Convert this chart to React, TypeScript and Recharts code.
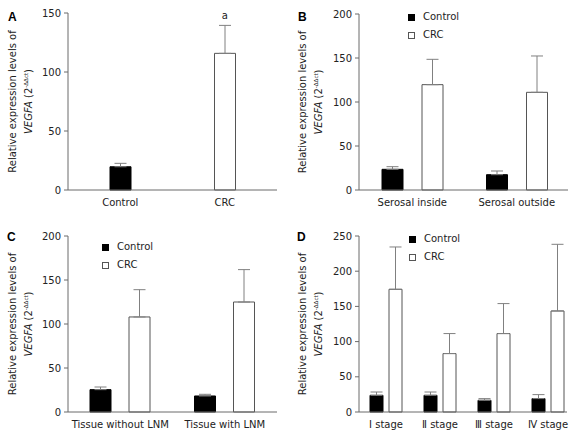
import React from 'react';
import { BarChart, Bar, XAxis, YAxis, ErrorBar, Cell, Legend, ReferenceDot } from 'recharts';

const FONT = '"DejaVu Sans", Verdana, sans-serif';
const AXIS = '#6a6a6a';
const TXT = '#222';
const OUTLINE = '#555';
const ERRC = '#808080';

// Series
const seriesNames = ['Control', 'CRC'];
const seriesFill = ['#000000', '#ffffff'];
const seriesStroke = ['#000000', OUTLINE];

// Panel A
const catsA = ['Control', 'CRC'];
const valsA = [19.7, 115.8];
const errsA = [2.9, 23.7];
const ticksA = [0, 50, 100, 150];
const sigA = ['', 'a'];

// Panel B
const catsB = ['Serosal inside', 'Serosal outside'];
const ctrlB = [23.5, 17.4];
const ctrlErrB = [3.0, 4.2];
const crcB = [119.7, 111.0];
const crcErrB = [28.8, 41.3];
const ticksB = [0, 50, 100, 150, 200];

// Panel C
const catsC = ['Tissue without LNM', 'Tissue with LNM'];
const ctrlC = [25.4, 18.2];
const ctrlErrC = [3.0, 1.9];
const crcC = [108.0, 125.0];
const crcErrC = [31.0, 36.8];
const ticksC = [0, 50, 100, 150, 200];

// Panel D
const catsD = ['Ⅰ stage', 'Ⅱ stage', 'Ⅲ stage', 'Ⅳ stage'];
const ctrlD = [23.7, 23.7, 16.6, 19.0];
const ctrlErrD = [4.7, 4.7, 2.4, 5.7];
const crcD = [174.3, 83.0, 111.4, 143.5];
const crcErrD = [60.1, 28.4, 42.6, 94.7];
const ticksD = [0, 50, 100, 150, 200, 250];

const panelLetters = ['A', 'B', 'C', 'D'];

const dataA = catsA.map((c, i) => ({ name: c, value: valsA[i], err: [0, errsA[i]] }));
const build = (cats: string[], ctrl: number[], ctrlErr: number[], crc: number[], crcErr: number[]) =>
  cats.map((c, i) => ({
    name: c,
    ctrl: ctrl[i],
    ctrlErr: [0, ctrlErr[i]],
    crc: crc[i],
    crcErr: [0, crcErr[i]],
  }));
const dataB = build(catsB, ctrlB, ctrlErrB, crcB, crcErrB);
const dataC = build(catsC, ctrlC, ctrlErrC, crcC, crcErrC);
const dataD = build(catsD, ctrlD, ctrlErrD, crcD, crcErrD);

const YLabel = (props: any) => {
  const vb = props.viewBox || { x: 0, y: 0, width: 0, height: 0 };
  const cy = vb.y + vb.height / 2;
  const x1 = vb.x + 16;
  const x2 = vb.x + 32;
  return (
    <g fontFamily={FONT} fontSize={10} fill={TXT}>
      <text x={x1} y={cy} textAnchor="middle" transform={`rotate(-90 ${x1} ${cy})`}>
        Relative expression levels of
      </text>
      <text x={x2} y={cy} textAnchor="middle" transform={`rotate(-90 ${x2} ${cy})`}>
        <tspan fontStyle="italic">VEGFA</tspan>
        <tspan> (2</tspan>
        <tspan fontSize={5.5} dy={-4}>-ΔΔct</tspan>
        <tspan dy={4}>)</tspan>
      </text>
    </g>
  );
};

const LegendBox = (props: any) => {
  const payload = [...(props.payload || [])].sort(
    (a: any, b: any) => seriesNames.indexOf(a.value) - seriesNames.indexOf(b.value)
  );
  return (
    <div style={{ fontFamily: FONT, fontSize: 10, color: TXT, lineHeight: '18px' }}>
      {payload.map((e: any) => {
        const idx = seriesNames.indexOf(e.value);
        return (
          <div key={e.value} style={{ display: 'flex', alignItems: 'center', height: 18 }}>
            <span
              style={{
                display: 'inline-block',
                width: 7,
                height: 7,
                boxSizing: 'border-box',
                background: e.color,
                border: `1px solid ${seriesStroke[idx] ?? '#000'}`,
                marginRight: 8,
              }}
            />
            <span>{e.value}</span>
          </div>
        );
      })}
    </div>
  );
};

const tickStyle = { fontSize: 10, fill: TXT, fontFamily: FONT };

const yAxisProps = (ticks: number[], width: number) => ({
  type: 'number' as const,
  domain: [ticks[0], ticks[ticks.length - 1]],
  ticks,
  interval: 0 as const,
  width,
  tick: tickStyle,
  tickSize: 4,
  tickMargin: 3,
  stroke: AXIS,
  axisLine: { stroke: AXIS },
  tickLine: { stroke: AXIS },
  label: { content: (p: any) => <YLabel {...p} /> },
});

const GroupedPanel = ({
  data,
  ticks,
  width,
  height,
  margin,
  yWidth,
  xHeight,
  barSize,
  barGap,
  legendPos,
  padding,
}: any) => (
  <BarChart width={width} height={height} data={data} margin={margin} barGap={barGap} barSize={barSize}>
    <XAxis
      dataKey="name"
      type="category"
      height={xHeight}
      tickLine={false}
      tickSize={4}
      tickMargin={5}
      interval={0}
      tick={tickStyle}
      axisLine={{ stroke: AXIS }}
      padding={padding}
    />
    <YAxis {...yAxisProps(ticks, yWidth)} />
    <Legend
      layout="vertical"
      align="center"
      verticalAlign="middle"
      content={(p: any) => <LegendBox {...p} />}
      wrapperStyle={{ left: legendPos[0], top: legendPos[1], width: 'auto', height: 'auto' }}
    />
    <Bar
      dataKey="ctrl"
      name={seriesNames[0]}
      fill={seriesFill[0]}
      stroke={seriesStroke[0]}
      isAnimationActive={false}
    >
      <ErrorBar dataKey="ctrlErr" direction="y" width={6} stroke={ERRC} strokeWidth={1} isAnimationActive={false} />
    </Bar>
    <Bar
      dataKey="crc"
      name={seriesNames[1]}
      fill={seriesFill[1]}
      stroke={seriesStroke[1]}
      isAnimationActive={false}
    >
      <ErrorBar dataKey="crcErr" direction="y" width={6} stroke={ERRC} strokeWidth={1} isAnimationActive={false} />
    </Bar>
  </BarChart>
);

export default function App() {
  const letterPos = [
    [8, 21],
    [298, 21],
    [7, 241],
    [297, 241],
  ];
  return (
    <div
      style={{
        position: 'absolute',
        left: 0,
        top: 0,
        width: 581,
        height: 440,
        background: '#fff',
        fontFamily: FONT,
      }}
    >
      <div style={{ position: 'absolute', left: 0, top: 0 }}>
        <BarChart width={290} height={220} data={dataA} margin={{ top: 13, right: 13, bottom: 0, left: 0 }} barSize={21}>
          <XAxis
            dataKey="name"
            type="category"
            height={30}
            tickLine={false}
            tickSize={4}
            tickMargin={5}
            interval={0}
            tick={tickStyle}
            axisLine={{ stroke: AXIS }}
          />
          <YAxis {...yAxisProps(ticksA, 68)} />
          <Bar dataKey="value" isAnimationActive={false}>
            {dataA.map((d, i) => (
              <Cell key={d.name} fill={seriesFill[i]} stroke={seriesStroke[i]} />
            ))}
            <ErrorBar dataKey="err" direction="y" width={6} stroke={ERRC} strokeWidth={1} isAnimationActive={false} />
          </Bar>
          {catsA.map((c, i) =>
            sigA[i] ? (
              <ReferenceDot
                key={c}
                x={c}
                y={valsA[i] + errsA[i]}
                r={1}
                fill="none"
                stroke="none"
                label={{ value: sigA[i], position: 'top', offset: 5, fontSize: 10, fill: TXT, fontFamily: FONT }}
              />
            ) : null
          )}
        </BarChart>
      </div>
      <div style={{ position: 'absolute', left: 290, top: 0 }}>
        <GroupedPanel
          data={dataB}
          ticks={ticksB}
          width={291}
          height={220}
          margin={{ top: 14, right: 13, bottom: 0, left: 0 }}
          yWidth={69}
          xHeight={30}
          barSize={21}
          barGap={19}
          legendPos={[118, 8]}
          padding={{ left: 1, right: -1 }}
        />
      </div>
      <div style={{ position: 'absolute', left: 0, top: 220 }}>
        <GroupedPanel
          data={dataC}
          ticks={ticksC}
          width={290}
          height={220}
          margin={{ top: 16, right: 13, bottom: 0, left: 0 }}
          yWidth={68}
          xHeight={28}
          barSize={21}
          barGap={18}
          legendPos={[102, 18]}
          padding={{ left: 0, right: 0 }}
        />
      </div>
      <div style={{ position: 'absolute', left: 290, top: 220 }}>
        <GroupedPanel
          data={dataD}
          ticks={ticksD}
          width={291}
          height={220}
          margin={{ top: 16, right: 14, bottom: 0, left: 0 }}
          yWidth={69}
          xHeight={28}
          barSize={13}
          barGap={6}
          legendPos={[119, 10]}
          padding={{ left: 0, right: -8 }}
        />
      </div>
      <svg
        width={581}
        height={440}
        style={{ position: 'absolute', left: 0, top: 0, pointerEvents: 'none' }}
      >
        {panelLetters.map((l, i) => (
          <text
            key={l}
            x={letterPos[i][0]}
            y={letterPos[i][1]}
            fontFamily='"Liberation Sans", Arial, sans-serif'
            fontWeight="bold"
            fontSize={12}
            fill="#000"
          >
            {l}
          </text>
        ))}
      </svg>
    </div>
  );
}
